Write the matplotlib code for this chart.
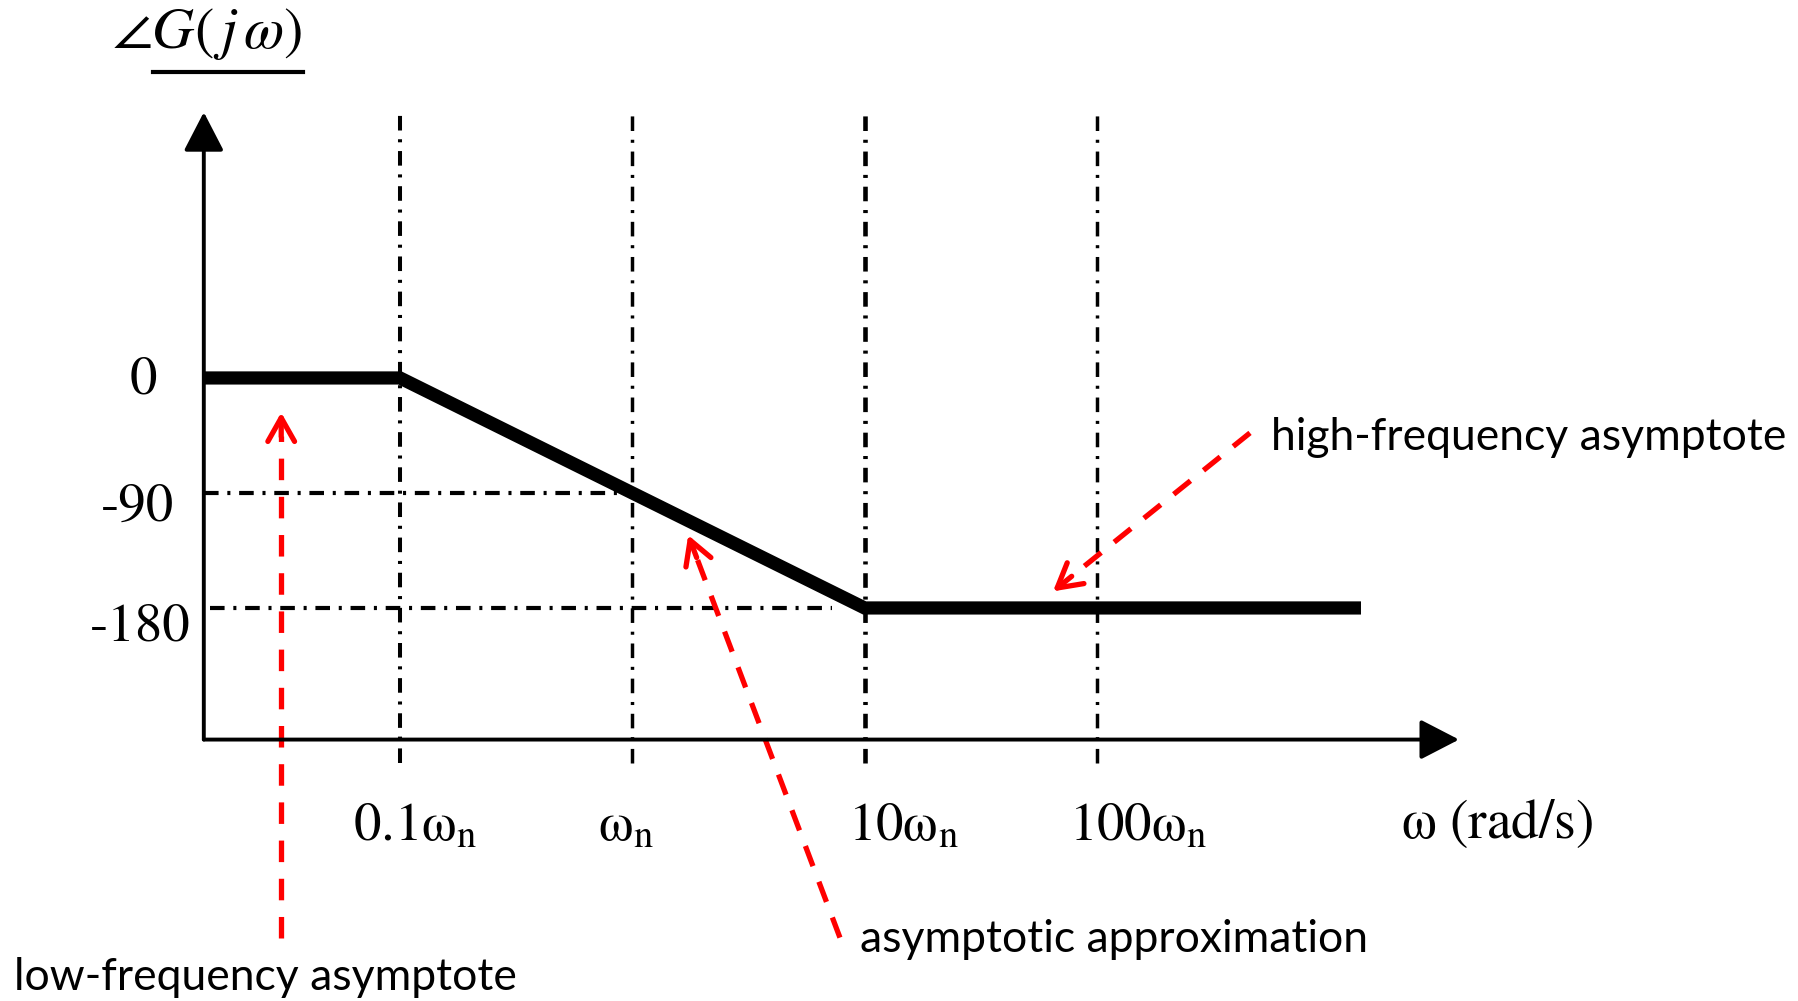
import matplotlib
matplotlib.use("Agg")
import numpy as np
import matplotlib.pyplot as plt
from matplotlib.lines import Line2D

plt.rcParams["mathtext.fontset"] = "stix"
plt.rcParams["lines.scale_dashes"] = False

# ── data ──────────────────────────────────────────────────────────────────────
DECADES = [0.1, 1, 10, 100]                       # ω / ωn
DECADE_LABELS = [r"$0.1\mathrm{\omega}_\mathrm{n}$", r"$\mathrm{\omega}_\mathrm{n}$",
                 r"$10\mathrm{\omega}_\mathrm{n}$", r"$100\mathrm{\omega}_\mathrm{n}$"]
PHASE_TICKS = [0, -90, -180]                      # degrees
PHASE_LABELS = ["0", "-90", "-180"]

# asymptotic phase curve: flat, -90°/decade between 0.1ωn and 10ωn, flat
ASYM_W = [0.0143, 0.1, 10, 1370]
ASYM_PHASE = [0, 0, -180, -180]

# ── layout (sketch frame) ─────────────────────────────────────────────────────
W_ORIGIN, W_AXIS_END = 0.0143, 3620
PH_XAXIS, PH_YAXIS_TOP = -283, 208
PH_GUIDE_TOP, PH_GUIDE_BOT = 210, -301
GUIDE_LW = [2.9, 2.5, 3.3, 2.5]
GUIDE_H_END = [1, 7.24]                           # where the -90 / -180 guides stop
GUIDE_H_START = [W_ORIGIN, 0.0152]
TICK_SHIFT = [15, -6, 39, 41]                      # px, label centre vs guide
PHASE_SHIFT = [(-60, -3), (-66, -15), (-64, -20)]  # px

DASHDOT = (0, (10.5, 6.3, 2.2, 6.3))
RED_DASH = (0, (15.5, 12))

# red pointers: (tail, tip) in (ω/ωn, phase)
POINTERS = [((0.0308, -438), (0.0308, -27)),
            ((7.83, -438), (1.74, -123)),
            ((456, -43), (64.7, -167))]

fig = plt.figure(figsize=(17.98, 10.01), dpi=100)
ax = fig.add_axes([0, 0, 1, 1])
ax.set_xscale("log")
ax.set_xlim(10 ** -2.722, 10 ** 5.018)
ax.set_ylim(-487.6, 295.8)
ax.axis("off")

# decade guides
for w, lw in zip(DECADES, GUIDE_LW):
    ax.plot([w, w], [PH_GUIDE_BOT, PH_GUIDE_TOP], color="black", lw=lw, ls=DASHDOT)

# phase guides (-90, -180)
for ph, w0, w1 in zip(PHASE_TICKS[1:], GUIDE_H_START, GUIDE_H_END):
    ax.plot([w0, w1], [ph, ph], color="black", lw=3.0, ls=DASHDOT)

# axes with filled arrow heads
head = dict(arrowstyle="-|>,head_length=1.2,head_width=0.62", mutation_scale=20,
            lw=2.8, color="black", shrinkA=0, shrinkB=0)
ax.annotate("", xy=(W_AXIS_END, PH_XAXIS), xytext=(W_ORIGIN, PH_XAXIS), arrowprops=head)
ax.annotate("", xy=(W_ORIGIN, PH_YAXIS_TOP), xytext=(W_ORIGIN, PH_XAXIS), arrowprops=head)

# asymptotic approximation
ax.plot(ASYM_W, ASYM_PHASE, color="black", lw=9.5,
        solid_capstyle="butt", solid_joinstyle="miter")

# tick labels
for w, lab, dx in zip(DECADES, DECADE_LABELS, TICK_SHIFT):
    ax.annotate(lab, xy=(w, PH_XAXIS), xytext=(dx, -86), textcoords="offset pixels",
                ha="center", va="center", fontsize=39.5)
for ph, lab, (dx, dy) in zip(PHASE_TICKS, PHASE_LABELS, PHASE_SHIFT):
    ax.annotate(lab, xy=(W_ORIGIN, ph), xytext=(dx, dy), textcoords="offset pixels",
                ha="center", va="center", fontsize=39.5, family="STIXGeneral")

fig.text(1401 / 1798, 1 - 823 / 1001, r"$\mathrm{\omega\ (rad/s)}$", fontsize=40,
         ha="left", va="center")
fig.text(112 / 1798, 1 - 34 / 1001, r"$\angle G(\,j\,\omega)$", fontsize=42,
         ha="left", va="center")
fig.add_artist(Line2D([153 / 1798, 303 / 1798], [1 - 72 / 1001] * 2, color="black", lw=3))

# red dashed pointers
for (tail, tip) in POINTERS:
    lt = np.array([np.log10(tail[0]), tail[1]])
    lp = np.array([np.log10(tip[0]), tip[1]])
    span = np.hypot((lp[0] - lt[0]) * 232.3, (lp[1] - lt[1]) * 1.2778)
    back = lp + (lt - lp) * (24 / span)
    ax.plot([10 ** lt[0], 10 ** back[0]], [lt[1], back[1]], color="red", lw=3.8,
            ls=RED_DASH)
    ax.annotate("", xy=tip, xytext=(10 ** back[0], back[1]),
                arrowprops=dict(arrowstyle="->,head_length=0.85,head_width=0.48",
                                mutation_scale=20, lw=3.8, color="red",
                                shrinkA=0, shrinkB=0))

sans = dict(fontsize=32, family="Lato", va="center", ha="left")
fig.text(14 / 1798, 1 - 978 / 1001, "low-frequency asymptote", **sans)
fig.text(860 / 1798, 1 - 940 / 1001, "asymptotic approximation", **sans)
fig.text(1271 / 1798, 1 - 437 / 1001, "high-frequency asymptote", **sans)

fig.savefig("out.png", dpi=100)
